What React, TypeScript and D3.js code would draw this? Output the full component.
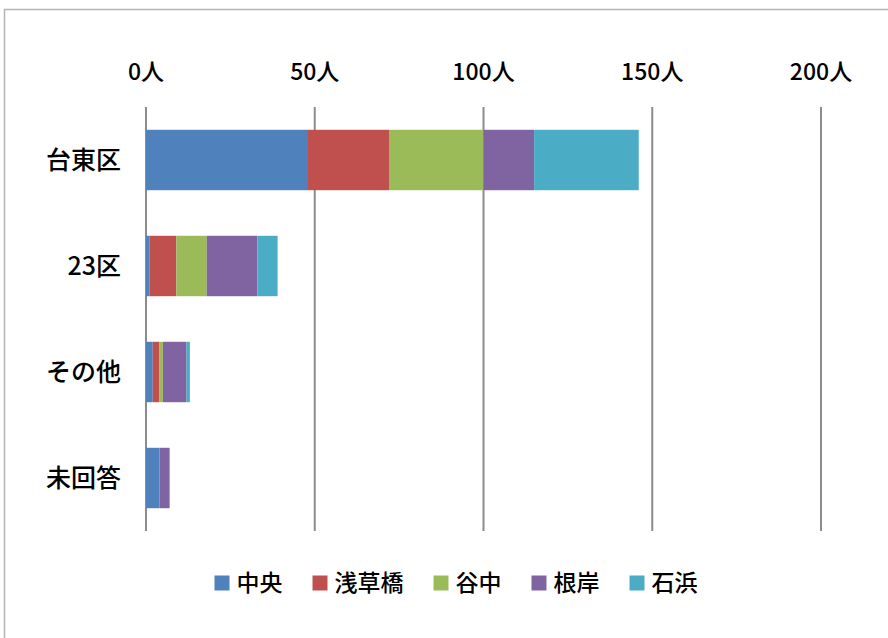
import * as React from 'react';
import {useEffect, useRef} from 'react';
import * as d3 from 'd3';

const categories = ['台東区', '23区', 'その他', '未回答'];
const seriesNames = ['中央', '浅草橋', '谷中', '根岸', '石浜'];
const seriesColors = ['#4f81bd', '#c0504d', '#9bbb59', '#8064a2', '#4bacc6'];

// one array per series, in category order
const chuo = [48, 1, 2, 4];
const asakusabashi = [24, 8, 2, 0];
const yanaka = [28, 9, 1, 0];
const negishi = [15, 15, 7, 3];
const ishihama = [31, 6, 1, 0];

const tickValues = [0, 50, 100, 150, 200];

const width = 888;
const height = 638;
const font = '"Noto Sans CJK JP", "Noto Sans", sans-serif';

export default function App() {
  const ref = useRef<SVGSVGElement>(null);

  useEffect(() => {
    const svg = d3.select(ref.current);
    svg.selectAll('*').remove();

    const rows = categories.map((c, i) => {
      const row: any = {category: c};
      [chuo, asakusabashi, yanaka, negishi, ishihama].forEach((s, j) => {
        row[seriesNames[j]] = s[i];
      });
      return row;
    });

    const stacked = d3.stack<any>().keys(seriesNames)(rows);

    const x = d3.scaleLinear().domain([0, 200]).range([146, 821]);
    const y = d3.scaleBand().domain(categories).range([107, 531]).paddingInner(0.43).paddingOuter(0.215);
    const color = d3.scaleOrdinal<string>().domain(seriesNames).range(seriesColors);

    // chart frame (cropped on right and bottom)
    svg.append('rect')
      .attr('x', 4.5).attr('y', 9.5)
      .attr('width', width + 20).attr('height', height + 20)
      .attr('fill', 'white')
      .attr('stroke', '#b4b4b4')
      .attr('stroke-width', 1.5);

    // gridlines
    svg.append('g')
      .selectAll('line')
      .data(tickValues)
      .join('line')
      .attr('x1', d => x(d)).attr('x2', d => x(d))
      .attr('y1', 107).attr('y2', 531)
      .attr('stroke', '#8c8c8c')
      .attr('stroke-width', 2);

    // tick labels on top
    svg.append('g')
      .selectAll('text')
      .data(tickValues)
      .join('text')
      .attr('x', d => x(d))
      .attr('y', 80)
      .attr('text-anchor', 'middle')
      .style('font', `500 23px ${font}`)
      .attr('fill', '#000')
      .text(d => `${d}人`);

    // bars
    svg.append('g')
      .selectAll('g')
      .data(stacked)
      .join('g')
      .attr('fill', d => color(d.key))
      .selectAll('rect')
      .data(d => d)
      .join('rect')
      .attr('x', d => x(d[0]))
      .attr('width', d => x(d[1]) - x(d[0]))
      .attr('y', d => y(d.data.category)!)
      .attr('height', y.bandwidth());

    // category labels
    svg.append('g')
      .selectAll('text')
      .data(categories)
      .join('text')
      .attr('x', 121)
      .attr('y', d => y(d)! + y.bandwidth() / 2)
      .attr('dy', '0.35em')
      .attr('text-anchor', 'end')
      .style('font', `500 25px ${font}`)
      .attr('fill', '#000')
      .text(d => d);

    // legend
    const fs = 23;
    const sq = 15;
    const gap = 30;
    const itemWidths = seriesNames.map(n => sq + 7 + n.length * fs);
    const total = d3.sum(itemWidths) + gap * (seriesNames.length - 1);
    let lx = 456 - total / 2;
    const legend = svg.append('g');
    seriesNames.forEach((n, i) => {
      const g = legend.append('g').attr('transform', `translate(${lx},583)`);
      g.append('rect')
        .attr('x', 0).attr('y', -sq / 2)
        .attr('width', sq).attr('height', sq)
        .attr('fill', color(n));
      g.append('text')
        .attr('x', sq + 7).attr('y', 0)
        .attr('dy', '0.36em')
        .style('font', `500 ${fs}px ${font}`)
        .attr('fill', '#000')
        .text(n);
      lx += itemWidths[i] + gap;
    });
  }, []);

  return (
    <svg ref={ref} width={width} height={height}
      style={{position: 'fixed', left: 0, top: 0, display: 'block', background: 'white'}}/>
  );
}
